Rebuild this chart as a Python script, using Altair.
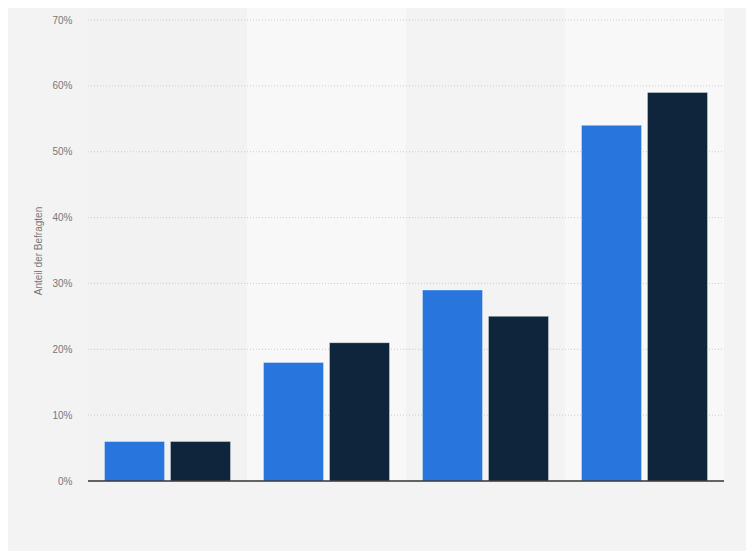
import altair as alt
import pandas as pd

groups = ["Gruppe 1", "Gruppe 2", "Gruppe 3", "Gruppe 4"]
series = ["Serie A", "Serie B"]
values_a = [6, 18, 29, 54]
values_b = [6, 21, 25, 59]
band_shades = ["#f2f2f2", "#f8f8f8", "#f3f3f3", "#f8f8f8"]
y_ticks = [0, 10, 20, 30, 40, 50, 60, 70]

W, H = 636, 461

rows = []
for g, a, b in zip(groups, values_a, values_b):
    rows.append({"group": g, "series": series[0], "value": a})
    rows.append({"group": g, "series": series[1], "value": b})
df = pd.DataFrame(rows)
bands = pd.DataFrame({"group": groups, "shade": band_shades})
grid_df = pd.DataFrame({"tick": [t for t in y_ticks if t > 0]})
base_df = pd.DataFrame({"tick": [0]})

xscale = alt.Scale(domain=groups, paddingInner=0, paddingOuter=0)
yscale = alt.Scale(domain=[0, 70], nice=False)

yaxis = alt.Axis(
    values=y_ticks,
    labelExpr="datum.value + '%'",
    title="Anteil der Befragten",
    titleFontSize=10, titleFontWeight="normal", titleColor="#777777",
    titleFont="Liberation Sans", titlePadding=8,
    labelFont="Liberation Sans", labelFontSize=10, labelColor="#777777",
    labelPadding=16, ticks=False, domain=False, grid=False,
)

band_layer = alt.Chart(bands).mark_rect().encode(
    x=alt.X("group:N", scale=xscale, axis=None),
    y=alt.value(-13),
    y2=alt.value(H),
    color=alt.Color("shade:N", scale=None, legend=None),
)

grid_layer = alt.Chart(grid_df).mark_rule(
    color="#cccccc", strokeDash=[1, 2], strokeWidth=1
).encode(
    y=alt.Y("tick:Q", scale=yscale, axis=yaxis),
    x=alt.value(0),
    x2=alt.value(W),
)

bars = alt.Chart(df).mark_bar(stroke="#ffffff", strokeOpacity=0.35, strokeWidth=1).encode(
    x=alt.X("group:N", scale=xscale, axis=None),
    xOffset=alt.XOffset(
        "series:N", sort=series,
        scale=alt.Scale(domain=series, paddingInner=0.09, paddingOuter=0.25),
    ),
    y=alt.Y("value:Q", scale=yscale, axis=yaxis),
    color=alt.Color(
        "series:N",
        scale=alt.Scale(domain=series, range=["#2876dd", "#0f253c"]),
        legend=None,
    ),
)

base_layer = alt.Chart(base_df).mark_rule(color="#333333", strokeWidth=1.5).encode(
    y=alt.Y("tick:Q", scale=yscale, axis=yaxis),
    x=alt.value(0),
    x2=alt.value(W),
)

chart = alt.layer(band_layer, grid_layer, bars, base_layer).properties(
    width=W, height=H,
    autosize=alt.AutoSizeParams(type="none"),
    padding={"left": 80, "top": 12, "right": 22, "bottom": 70},
    background="#f3f3f3",
).configure_view(stroke=None, fill=None)

chart.save("out.html", embed_options={"renderer": "svg", "actions": False})
